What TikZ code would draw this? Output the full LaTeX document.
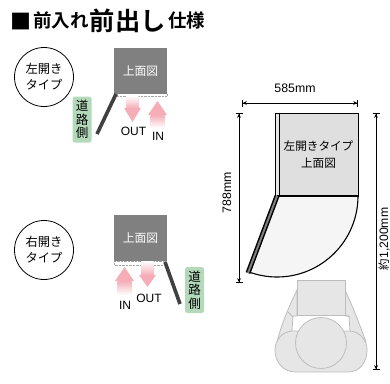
\documentclass[tikz,border=0pt]{standalone}
\usepackage{fontspec}
\setmainfont{Liberation Sans}
\newfontfamily\jpfont{Noto Sans CJK JP}
\newfontfamily\jpbold{Noto Sans CJK JP Bold}
\usetikzlibrary{arrows.meta,calc}
\definecolor{pinkc}{HTML}{F5AEB8}
\definecolor{greenc}{HTML}{B4D9BA}
\definecolor{darkg}{HTML}{808080}
\definecolor{doorc}{HTML}{404040}
\definecolor{planc}{HTML}{DEDFDE}
\definecolor{manf}{HTML}{E6E6E6}
\definecolor{mans}{HTML}{BDBDBD}
\tikzset{
  x=1pt,y=-1pt,
  typecircle/.style={circle,draw=black,line width=0.8pt,minimum size=59pt,inner sep=0pt,align=center,font=\jpfont\fontsize{12.3}{17}\selectfont},
  topbox/.style={fill=darkg,text=white,font=\jpfont\fontsize{11.8}{14}\selectfont,inner sep=0pt,minimum width=53pt,minimum height=46pt},
  roadtag/.style={fill=greenc,rounded corners=2.5pt,inner sep=0pt,minimum width=19pt,minimum height=46pt,align=center,font=\jpfont\fontsize{12.5}{13.5}\selectfont},
  doorline/.style={draw=doorc,line width=3.6pt},
  gaprect/.style={draw=gray!70,line width=0.4pt,densely dotted,fill=white},
  latin/.style={font=\fontsize{12}{14}\selectfont,inner sep=0pt},
  dimline/.style={draw=black,line width=0.7pt,{Bar[width=7pt,line width=.8pt]Stealth[length=4pt,width=4pt]}-{Stealth[length=4pt,width=4pt]Bar[width=7pt,line width=.8pt]}},
  dimlabel/.style={font=\fontsize{12.3}{14}\selectfont,inner sep=0pt},
  man/.style={draw=mans,fill=manf,line width=0.8pt},
  titletext/.style={anchor=base west,inner sep=0pt},
}
\newcommand{\downarr}[5]{% xl xr ytop yhead ytip
  \shade[top color=white,bottom color=pinkc] (#1+2.5,#3) rectangle (#2-2.5,#4);
  \fill[pinkc] (#1,#4) -- (#2,#4) -- ({(#1+#2)/2},#5) -- cycle;
}
\newcommand{\uparr}[5]{% xl xr ybottom yhead ytip
  \shade[bottom color=white,top color=pinkc] (#1+2.5,#3) rectangle (#2-2.5,#4);
  \fill[pinkc] (#1,#4) -- (#2,#4) -- ({(#1+#2)/2},#5) -- cycle;
}
\begin{document}
\begin{tikzpicture}
\useasboundingbox (0,0) rectangle (390,383);
% title
\node[titletext] (t0) at (10.5,29) {\jpbold\fontsize{21}{22}\selectfont ■};
\node[titletext] (t1) at (33,27) {\jpbold\fontsize{18.5}{20}\selectfont 前入れ};
\node[titletext] (t2) at (89.5,30.5) {\jpbold\fontsize{25.3}{26}\selectfont 前出し};
\node[titletext] (t3) at (168,27) {\jpbold\fontsize{18.5}{20}\selectfont 仕様};
% upper left
\node[typecircle] (c1) at (44,77) {左開き\\[-1pt]タイプ};
\node[gaprect,minimum width=50pt,minimum height=3pt,inner sep=0pt] (gap1) at (142,94.5) {};
\node[topbox] (top1) at (140.5,71) {上面図};
\coordinate (d1a) at (116,94);
\coordinate (d1b) at (97,134);
\draw[doorline] (d1a) -- (d1b);
\node[roadtag] (road1) at (82,119.5) {道\\路\\側};
\downarr{124}{141}{96}{108}{122}
\uparr{148}{167}{128}{115}{101}
\node[latin] (out1) at (133.5,131) {OUT};
\node[latin] (in1) at (158,136.5) {IN};
% lower left
\node[typecircle] (c2) at (44,250) {右開き\\[-1pt]タイプ};
\node[gaprect,minimum width=51pt,minimum height=4pt,inner sep=0pt] (gap2) at (140,263) {};
\node[topbox] (top2) at (140.5,238) {上面図};
\coordinate (d2a) at (165,262);
\coordinate (d2b) at (180,304);
\draw[doorline] (d2a) -- (d2b);
\node[roadtag] (road2) at (194.5,290) {道\\路\\側};
\uparr{115}{134}{295}{281}{267}
\downarr{139}{156}{261}{275}{287}
\node[latin] (in2) at (125,305) {IN};
\node[latin] (out2) at (149,298) {OUT};
% right plan
\draw[fill=planc,draw=black,line width=0.9pt] (275,113) rectangle (358,196);
\fill[fill=planc!75] (275.5,113.5) rectangle (279,196);
\draw[black,line width=0.9pt] (279,113) -- (279,196);
\draw[black,line width=1.1pt,fill=black!4] (277,196) -- (358,196)
  .. controls (358,240.7) and (321.7,277) .. (277,277)
  .. controls (267.6,277) and (258.1,275.3) .. (249.3,272.1);
\draw[black,line width=1.4pt] (277,196) -- (358,196);
\coordinate (d3a) at (277,196);
\coordinate (d3b) at (248,273);
\draw[draw=black,line width=5pt] (d3a) -- (d3b);
\draw[draw=gray,line width=2pt] (d3a) -- (d3b);
\node[align=center,inner sep=0pt,font=\jpfont\fontsize{11.6}{17.5}\selectfont] (plan) at (318.5,154.5) {左開きタイプ\\上面図};
% dimensions
\coordinate (w1) at (242,103); \coordinate (w2) at (358,103);
\draw[dimline] (w1) -- (w2);
\node[dimlabel] (w) at (295,88) {585mm};
\coordinate (h1) at (239,113); \coordinate (h2) at (239,283);
\draw[dimline] (h1) -- (h2);
\node[dimlabel,rotate=90] (h) at (227,193) {788mm};
\coordinate (t1b) at (376,113); \coordinate (t2b) at (376,370);
\draw[dimline] (t1b) -- (t2b);
\node[font=\fontsize{12.2}{13}\selectfont,inner sep=0pt,rotate=90] (t) at (384,239) {{\jpfont\fontsize{11.5}{12}\selectfont 約}1,200mm};
% person
\draw[man] (297,290) .. controls (290,304) and (281,325) .. (277,342)
  -- (292,345) -- (292,331) -- (293,316) -- (297,316) -- cycle;
\draw[man] (345,290) .. controls (352,305) and (360,325) .. (366,342)
  -- (350,345) -- (350,331) -- (349,316) -- (345,316) -- cycle;
\draw[mans,line width=0.8pt] (288,312) -- (293,317);
\draw[mans,line width=0.8pt] (345,315) -- (350,317);
\draw[man] (292,331) .. controls (281,332) and (275,341) .. (275,350)
  .. controls (275,362) and (283,372) .. (296,372)
  -- (348,372) .. controls (360,372) and (367,362) .. (367,350)
  .. controls (367,341) and (361,332) .. (350,331) -- cycle;
\node[man,minimum width=48pt,minimum height=35pt,inner sep=0pt] (back) at (321,297.5) {};
\node[man,circle,minimum size=51pt,inner sep=0pt] (headc) at (321,343) {};
\end{tikzpicture}
\end{document}
